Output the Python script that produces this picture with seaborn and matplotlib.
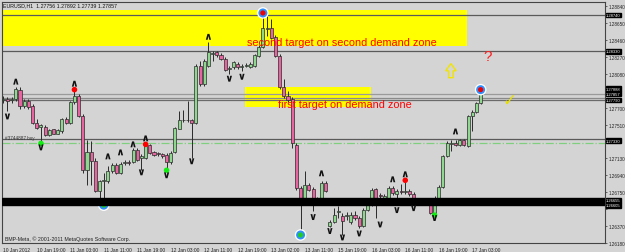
import numpy as np
import pandas as pd
import matplotlib
matplotlib.use("Agg")
import matplotlib.pyplot as plt
from matplotlib.patches import FancyArrow
import seaborn as sns

# ---------------- data (EURUSD H1) ----------------
opens = [1.27789, 1.27800, 1.27789, 1.27800, 1.27901, 1.27722, 1.27778, 1.27722, 1.27532, 1.27487,
         1.27487, 1.27387, 1.27454, 1.27409, 1.27432, 1.27577, 1.27532, 1.27767, 1.27834, 1.27610,
         1.26996, 1.27197, 1.27097, 1.26761, 1.26873, 1.26873, 1.26985, 1.27052, 1.26962, 1.27074,
         1.27085, 1.27085, 1.27219, 1.27130, 1.27130, 1.27275, 1.27197, 1.27186, 1.27175, 1.27164,
         1.27085, 1.27197, 1.27465, 1.27566, 1.27555, 1.27555, 1.27532, 1.28169, 1.27968, 1.28169,
         1.28303, 1.28326, 1.28292, 1.28247, 1.28136, 1.28158, 1.28192, 1.28158, 1.28169, 1.28158,
         1.28169, 1.28281, 1.28382, 1.28583, 1.28594, 1.28493, 1.28281, 1.27935, 1.27834, 1.27800,
         1.27275, 1.26794, 1.26683, 1.26828, 1.26783, 1.26649, 1.26683, 1.26850, 1.26370, 1.26415,
         1.26526, 1.26482, 1.26482, 1.26415, 1.26493, 1.26459, 1.26370, 1.26549, 1.26604, 1.26783,
         1.26716, 1.26627, 1.26660, 1.26794, 1.26727, 1.26761, 1.26749, 1.26761, 1.26727, 1.26660,
         1.26649, 1.26649, 1.26660, 1.26482, 1.26683, 1.26805, 1.27153, 1.27286, 1.27308, 1.27275,
         1.27331, 1.27264, 1.27610, 1.27655, 1.27756]
highs = [1.27834, 1.27823, 1.27823, 1.27935, 1.27935, 1.27800, 1.27800, 1.27744, 1.27577, 1.27521,
         1.27510, 1.27454, 1.27465, 1.27454, 1.27588, 1.27599, 1.27778, 1.27901, 1.27856, 1.27633,
         1.27331, 1.27320, 1.27130, 1.26884, 1.26962, 1.27041, 1.27074, 1.27074, 1.27085, 1.27108,
         1.27108, 1.27242, 1.27242, 1.27175, 1.27286, 1.27286, 1.27208, 1.27197, 1.27186, 1.27186,
         1.27208, 1.27487, 1.27666, 1.27677, 1.27778, 1.27577, 1.28192, 1.28225, 1.28247, 1.28437,
         1.28337, 1.28337, 1.28315, 1.28270, 1.28169, 1.28225, 1.28214, 1.28192, 1.28203, 1.28214,
         1.28303, 1.28404, 1.28773, 1.28728, 1.28694, 1.28516, 1.28303, 1.28024, 1.27890, 1.27823,
         1.27297, 1.26817, 1.26985, 1.26850, 1.26805, 1.26694, 1.26873, 1.26873, 1.26437, 1.26571,
         1.26593, 1.26515, 1.26526, 1.26526, 1.26537, 1.26482, 1.26571, 1.26627, 1.26794, 1.26794,
         1.26739, 1.26727, 1.26817, 1.26817, 1.26783, 1.26839, 1.26884, 1.26783, 1.26749, 1.26671,
         1.26660, 1.26671, 1.26683, 1.26705, 1.26828, 1.27164, 1.27320, 1.27331, 1.27331, 1.27342,
         1.27342, 1.27621, 1.27677, 1.27767, 1.27892]
lows = [1.27755, 1.27666, 1.27755, 1.27778, 1.27689, 1.27700, 1.27689, 1.27521, 1.27454, 1.27297,
        1.27376, 1.27376, 1.27398, 1.27398, 1.27420, 1.27521, 1.27521, 1.27744, 1.27599, 1.26962,
        1.26828, 1.26828, 1.26749, 1.26683, 1.26604, 1.26850, 1.26962, 1.26951, 1.26951, 1.27052,
        1.27052, 1.27074, 1.27097, 1.26996, 1.27119, 1.27175, 1.27153, 1.27153, 1.27130, 1.26996,
        1.27063, 1.27186, 1.27454, 1.27543, 1.27543, 1.27130, 1.27521, 1.27946, 1.27946, 1.28158,
        1.28225, 1.28270, 1.28236, 1.28113, 1.28080, 1.28136, 1.28136, 1.28113, 1.28158, 1.28147,
        1.28158, 1.28270, 1.28370, 1.28505, 1.28471, 1.28270, 1.27912, 1.27812, 1.27767, 1.27242,
        1.26772, 1.26270, 1.26671, 1.26761, 1.26537, 1.26638, 1.26671, 1.26749, 1.26359, 1.26404,
        1.26459, 1.26270, 1.26437, 1.26392, 1.26437, 1.26348, 1.26359, 1.26537, 1.26593, 1.26459,
        1.26649, 1.26615, 1.26627, 1.26716, 1.26627, 1.26727, 1.26727, 1.26705, 1.26649, 1.26638,
        1.26638, 1.26638, 1.26504, 1.26459, 1.26671, 1.26794, 1.27141, 1.27208, 1.27264, 1.27264,
        1.27264, 1.27253, 1.27432, 1.27644, 1.27739]
closes = [1.27800, 1.27778, 1.27800, 1.27912, 1.27722, 1.27778, 1.27711, 1.27532, 1.27476, 1.27499,
          1.27387, 1.27443, 1.27409, 1.27443, 1.27577, 1.27532, 1.27767, 1.27834, 1.27610, 1.26996,
          1.27197, 1.27097, 1.26761, 1.26873, 1.26884, 1.26985, 1.27052, 1.26962, 1.27063, 1.27085,
          1.27074, 1.27219, 1.27108, 1.27153, 1.27275, 1.27186, 1.27164, 1.27175, 1.27153, 1.27085,
          1.27186, 1.27476, 1.27566, 1.27560, 1.27566, 1.27532, 1.28169, 1.27968, 1.28225, 1.28326,
          1.28315, 1.28292, 1.28247, 1.28125, 1.28147, 1.28214, 1.28158, 1.28169, 1.28180, 1.28192,
          1.28292, 1.28382, 1.28594, 1.28590, 1.28482, 1.28281, 1.27935, 1.27834, 1.27789, 1.27297,
          1.26794, 1.26683, 1.26828, 1.26772, 1.26638, 1.26683, 1.26850, 1.26761, 1.26415, 1.26493,
          1.26537, 1.26426, 1.26493, 1.26493, 1.26459, 1.26370, 1.26549, 1.26604, 1.26772, 1.26660,
          1.26705, 1.26705, 1.26794, 1.26739, 1.26761, 1.26755, 1.26761, 1.26727, 1.26660, 1.26649,
          1.26645, 1.26660, 1.26515, 1.26683, 1.26805, 1.27153, 1.27297, 1.27297, 1.27275, 1.27331,
          1.27275, 1.27610, 1.27655, 1.27755, 1.27857]

date_labels = ["10 Jan 2012", "10 Jan 19:00", "11 Jan 03:00", "11 Jan 11:00", "11 Jan 19:00",
               "12 Jan 03:00", "12 Jan 11:00", "12 Jan 19:00", "13 Jan 02:00", "13 Jan 11:00",
               "15 Jan 19:00", "16 Jan 03:00", "16 Jan 11:00", "16 Jan 19:00", "17 Jan 03:00"]
label_step = 8
price_ticks = [1.26180, 1.26370, 1.26560, 1.26750, 1.26940, 1.27130, 1.27320, 1.27510,
               1.27700, 1.27890, 1.28080, 1.28270, 1.28460, 1.28650, 1.28840]
hidden_ticks = [1.26560, 1.27320, 1.27890]  # covered by the price boxes in the original

# horizontal levels
level_lines = [1.28740, 1.28330, 1.27857, 1.27812, 1.27790, 1.27342]
level_colors = ["#5a5a5a", "#5a5a5a", "#9a9a9a", "#8a8a8a", "#6a6a6a", "#5a5a5a"]
buy_level = 1.27308
band_low, band_high = 1.26605, 1.26683
price_boxes = [1.28740, 1.28330, 1.27888, 1.27857, 1.27790, 1.27330, 1.26655, 1.26605]
box_offsets = [0, 0, 0.00024, 0, -0.00004, 0, 0.00005, -0.00001]

# demand zones (bar index range, price range)
zone1_x, zone1_y = (-0.3, 110.7), (1.28393, 1.28795)
zone2_x, zone2_y = (57.8, 87.8), (1.27711, 1.27935)

# fractal arrows
up_idx = [3, 17, 25, 28, 31, 34, 49, 76, 93, 96, 108]
up_price = [1.27991, 1.27968, 1.27152, 1.27197, 1.27287, 1.27354, 1.28494, 1.26962, 1.26895, 1.26951, 1.27432]
dn_idx = [1, 9, 33, 39, 45, 54, 57, 74, 78, 81, 85, 90, 94, 98, 103]
dn_price = [1.27600, 1.27253, 1.26973, 1.26940, 1.27097, 1.28024, 1.28046, 1.26471, 1.26314,
            1.26242, 1.26287, 1.26388, 1.26549, 1.26571, 1.26460]
# signal dots
red_idx, red_price = [17, 34, 96], [1.27901, 1.27287, 1.26884]
green_idx, green_price = [9, 39, 103], [1.27298, 1.26996, 1.26493]
ring_red_idx, ring_red_price = [62, 114], [1.28762, 1.27901]
ring_green_idx, ring_green_price = [71, 24], [1.26270, 1.26605]

title_text = "EURUSD,H1  1.27756 1.27892 1.27739 1.27857"
copyright_text = "BMP-Meta, \u00a9 2001-2011 MetaQuotes Software Corp."

# ---------------- style ----------------
sns.set_style("white")
plt.rcParams["font.family"] = ["Liberation Sans", "DejaVu Sans"]
bg = "#d4d4d4"
green_c = "#8fd68f"
pink_c = "#e8639f"
edge_c = "#2a2a2a"

df = pd.DataFrame({"open": opens, "high": highs, "low": lows, "close": closes})
df["idx"] = np.arange(len(df))
df["bull"] = df["close"] >= df["open"]
df["bottom"] = df[["open", "close"]].min(axis=1)
df["height"] = (df["close"] - df["open"]).abs().clip(lower=0.00003)

fig = plt.figure(figsize=(6.25, 2.53), dpi=100, facecolor=bg)
ax = fig.add_axes([2 / 625, 9 / 253, 603 / 625, 241 / 253])
ax.set_facecolor(bg)

ax.set_xlim(-0.3, 143.7)
ax.set_ylim(1.26191, 1.28885)

# zones
ax.fill_between(zone1_x, zone1_y[0], zone1_y[1], color="#ffff00", lw=0, zorder=1)
ax.fill_between(zone2_x, zone2_y[0], zone2_y[1], color="#ffff00", lw=0, zorder=1)

# levels
for lv, lc in zip(level_lines, level_colors):
    ax.axhline(lv, color=lc, lw=0.9, zorder=2)
ax.axhline(buy_level, color="#7fcf7f", lw=0.9, ls="-.", zorder=2)

# candles
ax.vlines(df["idx"], df["low"], df["high"], color=edge_c, lw=0.7, zorder=3)
ax.bar(df["idx"], df["height"], bottom=df["bottom"], width=0.72,
       color=np.where(df["bull"], green_c, pink_c), edgecolor=edge_c, lw=0.5, zorder=4)

# ring dots (lows)
sns.scatterplot(x=ring_green_idx, y=ring_green_price, s=70, color="white", edgecolor="none", ax=ax, zorder=4.5, legend=False)
sns.scatterplot(x=ring_green_idx, y=ring_green_price, s=42, color="#2f8fff", edgecolor="none", ax=ax, zorder=4.6, legend=False)
sns.scatterplot(x=ring_green_idx, y=ring_green_price, s=14, color="#22cc22", edgecolor="none", ax=ax, zorder=4.7, legend=False)

# black band
ax.axhspan(band_low, band_high, color="black", zorder=5)

sns.scatterplot(x=ring_red_idx, y=ring_red_price, s=70, color="white", edgecolor="none", ax=ax, zorder=6, legend=False)
sns.scatterplot(x=ring_red_idx, y=ring_red_price, s=42, color="#2f8fff", edgecolor="none", ax=ax, zorder=6.1, legend=False)
sns.scatterplot(x=ring_red_idx, y=ring_red_price, s=14, color="#ee0000", edgecolor="none", ax=ax, zorder=6.2, legend=False)
sns.scatterplot(x=red_idx, y=red_price, s=16, color="#ff0000", edgecolor="none", ax=ax, zorder=6, legend=False)
sns.scatterplot(x=green_idx, y=green_price, s=16, color="#11ee11", edgecolor="none", ax=ax, zorder=6, legend=False)
sns.scatterplot(x=up_idx, y=up_price, s=18, marker=r"$\mathbf{\wedge}$", color="#111111", edgecolor="none", ax=ax, zorder=6, legend=False)
sns.scatterplot(x=dn_idx, y=dn_price, s=18, marker=r"$\mathbf{\vee}$", color="#111111", edgecolor="none", ax=ax, zorder=6, legend=False)

# annotations
ax.text(58.2, 1.28437, "second target on second demand zone", color="#ff0000", fontsize=7.8,
        ha="left", va="center", zorder=7)
ax.text(65.6, 1.27744, "first target on demand zone", color="#ff0000", fontsize=7.8,
        ha="left", va="center", zorder=7)
ax.text(115.7, 1.28281, "?", color="#ff2020", fontsize=11, ha="center", va="center", zorder=7)
ax.add_patch(FancyArrow(106.9, 1.28035, 0, 0.00158, width=1.1, head_width=2.5, head_length=0.0008,
                        length_includes_head=True, facecolor="none", edgecolor="#f2e400", lw=1.0, zorder=7))
ax.text(120.8, 1.27789, "\u2713", color="#e8e000", fontsize=12, ha="center", va="center",
        family=["DejaVu Sans"], zorder=7)
ax.text(0.4, 1.27335, "#3744887 buy", color="#333333", fontsize=3.3, ha="left", va="bottom", zorder=7)

fig.text(3 / 625, 1 - 6 / 253, title_text, fontsize=3.8, color="#111111", ha="left", va="center")
ax.text(0.4, 1.26230, copyright_text, fontsize=3.8, color="#222222", ha="left", va="center", zorder=7)

# axes styling
ax.yaxis.tick_right()
ax.set_yticks(price_ticks)
ax.set_yticklabels(["" if p in hidden_ticks else f"{p:.5f}" for p in price_ticks],
                   fontsize=3.3, color="#222222")
ax.set_xticks(np.arange(0, len(date_labels) * label_step, label_step))
ax.set_xticklabels(date_labels, fontsize=3.5, color="#222222", ha="left")
ax.tick_params(axis="y", length=1.5, width=0.5, color="#333333", pad=0.8)
ax.tick_params(axis="x", length=2, width=0.5, color="#333333", pad=0.8)
for sp in ax.spines.values():
    sp.set_color("#444444")
    sp.set_linewidth(0.8)
ax.grid(False)

for p, off in zip(price_boxes, box_offsets):
    ax.text(1.002, p + off, f"{p:.5f}", transform=ax.get_yaxis_transform(), fontsize=3.0,
            color="white", ha="left", va="center", zorder=8, clip_on=False,
            bbox=dict(facecolor="black", edgecolor="black", pad=0.2))

fig.savefig("out.png", dpi=100, facecolor=bg)
